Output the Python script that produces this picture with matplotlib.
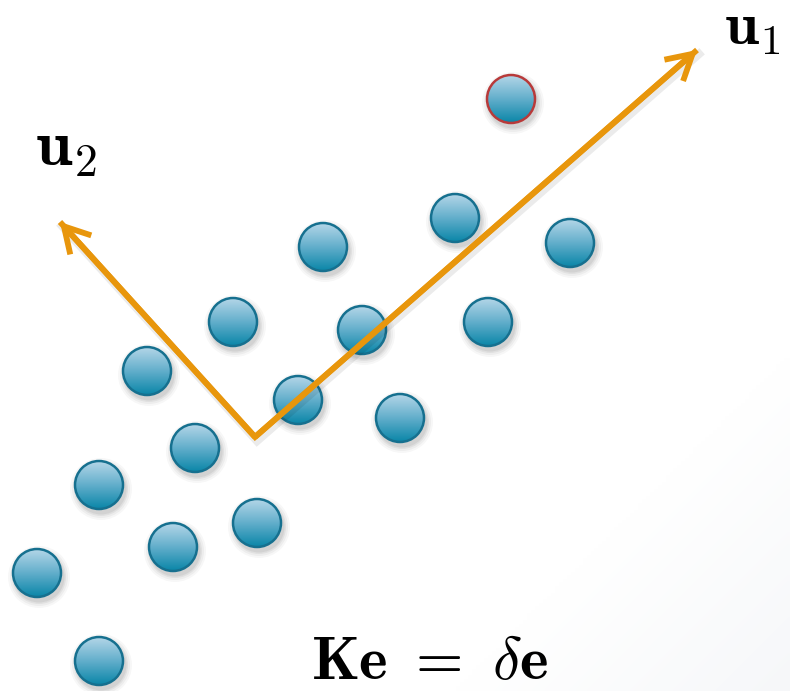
import numpy as np
import matplotlib
matplotlib.use("Agg")
import matplotlib.pyplot as plt
from matplotlib.patches import Circle, FancyArrowPatch
from matplotlib.colors import LinearSegmentedColormap

plt.rcParams["mathtext.fontset"] = "cm"

# Sample positions (canvas units, y grows downward)
pts_x = [511, 455, 570, 323, 233, 362, 488, 147, 298, 400, 195, 99, 257, 173, 37, 99]
pts_y = [99, 218, 243, 247, 322, 330, 322, 371, 400, 418, 448, 485, 523, 547, 573, 661]
highlight = [True] + [False] * 15

# Principal directions drawn from the centroid
origin = (255, 437)
u1_tip = (697, 50)
u2_tip = (60, 222)

W, H = 790, 691
fig = plt.figure(figsize=(W / 100, H / 100), dpi=100)
ax = fig.add_axes([0, 0, 1, 1])
ax.set_xlim(0, W)
ax.set_ylim(H, 0)
ax.set_aspect("equal")
ax.axis("off")

# faint background sheen in the lower-right corner
gx, gy = np.meshgrid(np.linspace(0, W, 200), np.linspace(0, H, 200))
sheen = np.clip((gx + gy - 1150) / 330, 0, 1)
bg = np.ones((200, 200, 3)) - sheen[..., None] * np.array([0.035, 0.03, 0.022])
ax.imshow(bg, extent=[0, W, H, 0], origin="upper", zorder=0, interpolation="bilinear")

R = 24
ball = LinearSegmentedColormap.from_list("ball", ["#b4d6e8", "#62aecb", "#0a86a8"])
grad = np.linspace(0, 1, 128)[:, None] * np.ones((1, 8))

for x, y, hl in zip(pts_x, pts_y, highlight):
    # soft drop shadow
    for k, a in [(7, 0.03), (5, 0.04), (3, 0.05), (1.5, 0.06)]:
        ax.add_patch(Circle((x + 2, y + 4), R + k, facecolor="#000000",
                            edgecolor="none", alpha=a, zorder=1))
    clip = Circle((x, y), R, transform=ax.transData, facecolor="none", edgecolor="none")
    ax.add_patch(clip)
    im = ax.imshow(grad, cmap=ball, extent=[x - R, x + R, y + R, y - R],
                   origin="upper", zorder=2, interpolation="bilinear")
    im.set_clip_path(clip)
    ax.add_patch(Circle((x, y), R, facecolor="none",
                        edgecolor="#b83a3a" if hl else "#16708f",
                        linewidth=1.8, zorder=3))

orange = "#e8960c"
# shadow under the axes lines
ax.plot([u2_tip[0] + 2, origin[0] + 2, u1_tip[0] + 2],
        [u2_tip[1] + 4, origin[1] + 4, u1_tip[1] + 4],
        color="#000000", alpha=0.08, linewidth=6, solid_joinstyle="miter", zorder=4)
ax.plot([u2_tip[0], origin[0], u1_tip[0]], [u2_tip[1], origin[1], u1_tip[1]],
        color=orange, linewidth=4.2, solid_joinstyle="miter", solid_capstyle="butt", zorder=5)
for tip in (u1_tip, u2_tip):
    ax.add_patch(FancyArrowPatch(origin, tip, arrowstyle="->,head_length=0.6,head_width=0.34",
                                 mutation_scale=30, color=orange, linewidth=4.2,
                                 shrinkA=0, shrinkB=0, joinstyle="miter", capstyle="butt",
                                 zorder=5))

ax.text(724, 45, r"$\mathbf{u}_1$", fontsize=44, ha="left", va="baseline", zorder=6)
ax.text(35, 166, r"$\mathbf{u}_2$", fontsize=47, ha="left", va="baseline", zorder=6)
ax.text(429, 679, r"$\mathbf{Ke}\ =\ \delta\mathbf{e}$", fontsize=44, ha="center",
        va="baseline", zorder=6)

fig.savefig("out.png", dpi=100)
